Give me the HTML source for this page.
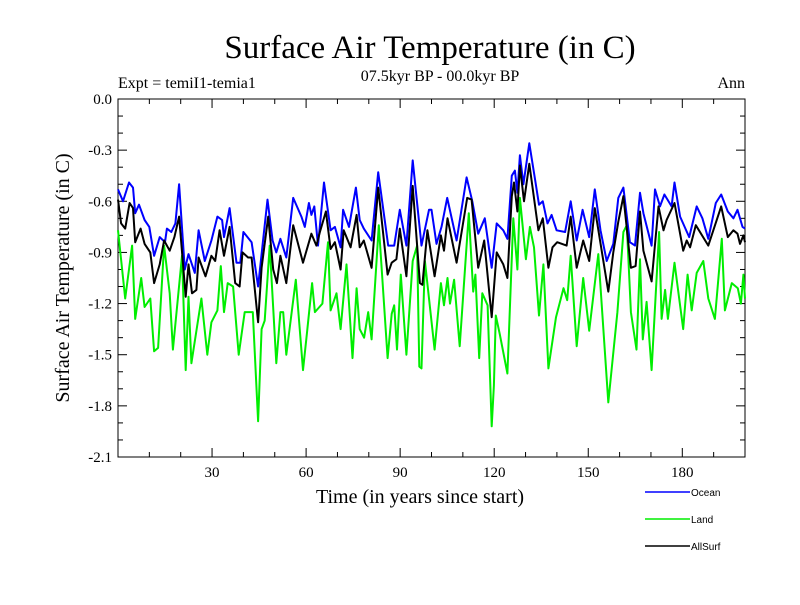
<!DOCTYPE html>
<html><head><meta charset="utf-8"><style>
body{margin:0;background:#fff;}
svg text{font-family:"Liberation Serif",serif;}
</style></head><body>
<svg id="chart" width="800" height="600" viewBox="0 0 800 600">
<text x="430" y="58" font-size="33" text-anchor="middle">Surface Air Temperature (in C)</text>
<text x="440" y="81" font-size="16" text-anchor="middle">07.5kyr BP - 00.0kyr BP</text>
<text x="118" y="88" font-size="16">Expt = temiI1-temia1</text>
<text x="745" y="88" font-size="16" text-anchor="end">Ann</text>
<text x="420" y="503" font-size="20" text-anchor="middle">Time (in years since start)</text>
<text transform="translate(69,278) rotate(-90)" font-size="20" text-anchor="middle">Surface Air Temperature (in C)</text>
<g id="axes"></g>
<g id="series"></g>
<g id="legend"></g>
</svg>
<script>
const oceanYears=[0,1.6,3.5,4.8,5.5,6.7,8.5,10,11.5,13.3,15,15.6,17,18.3,19.5,21.3,22.5,24.5,25.7,27.7,29.8,31.7,33.2,33.8,35.6,37.8,39,40,42.6,44.7,46.1,47.7,49.3,50.5,51.8,53.7,55.9,58.5,59.6,60.9,61.7,62.6,63.8,65.7,67.8,69.2,71,71.8,73.7,75.9,77.1,78.4,80.9,83,86.2,88.1,89.9,92,94,96.8,99.2,100,101.6,103.2,105,108,111.2,113,114.9,117,119.2,120.8,122.9,124.2,125.6,126.6,127.4,128.2,129.3,131.2,133,134.3,135.5,137,138.3,139.9,142.6,144.4,146.3,148.2,150.3,152.1,153.9,155.9,158,159.6,161.2,163.3,164.9,166.5,167.6,170.2,171.3,172.9,174.3,176.6,177.5,179.3,182.2,184.6,186.4,188.3,190.7,192.4,194.5,196.3,197.6,199.2,200];
const oceanValues=[-0.53,-0.60,-0.49,-0.52,-0.67,-0.62,-0.71,-0.75,-0.92,-0.81,-0.84,-0.76,-0.78,-0.73,-0.50,-1.00,-0.91,-1.02,-0.77,-0.95,-0.83,-0.69,-0.71,-0.81,-0.64,-0.96,-0.96,-0.78,-0.84,-1.10,-0.86,-0.59,-0.83,-0.90,-0.82,-0.93,-0.58,-0.69,-0.75,-0.61,-0.68,-0.63,-0.86,-0.49,-0.77,-0.75,-0.87,-0.65,-0.75,-0.52,-0.71,-0.76,-0.83,-0.43,-0.86,-0.86,-0.65,-0.86,-0.36,-0.86,-0.65,-0.65,-0.85,-0.75,-0.58,-0.83,-0.46,-0.60,-0.79,-0.70,-0.99,-0.73,-0.77,-0.82,-0.45,-0.42,-0.55,-0.33,-0.50,-0.26,-0.47,-0.62,-0.60,-0.73,-0.68,-0.77,-0.78,-0.60,-0.83,-0.65,-0.81,-0.53,-0.77,-0.95,-0.85,-0.58,-0.52,-0.84,-0.86,-0.55,-0.67,-0.86,-0.53,-0.63,-0.56,-0.63,-0.49,-0.69,-0.81,-0.63,-0.70,-0.82,-0.61,-0.56,-0.66,-0.70,-0.65,-0.75,-0.76];
const landYears=[0,2.3,4.5,5.5,7.4,8.5,10.3,11.5,12.8,14.7,16.5,17.5,20.4,21.6,22.5,23.4,26.6,28.5,29.8,31.7,32.8,33.8,35,36.7,38.5,40.4,41,43,44.7,45.8,46.8,48.4,50.5,51.8,52.7,53.7,56.7,59,60.3,61.9,62.8,65.2,67,67.8,69.7,71,72.9,74.8,76.1,77.1,78.5,79.8,80.9,83.2,86,87.3,88.1,89,90.2,92,94,95.4,96.1,96.8,97.9,101,103,104,105.1,105.9,107.2,109,111.9,113.3,114,115.2,116.2,117.9,119.2,119.9,120.5,121.8,124.2,126.1,127.4,128.2,130.1,131.4,132.7,134.3,135.7,137.3,139.7,142.1,143.3,144.4,146.3,148.4,150.3,153.2,156.4,159.3,161.2,162.3,163.6,165.4,166.5,167.4,168.6,170.2,172.6,173.4,174.5,175.4,177.5,180.3,181.7,183,184.6,186.7,188.3,190.4,192.6,193.6,195.8,197.7,198.7,199.5,200];
const landValues=[-0.77,-1.17,-0.86,-1.29,-1.05,-1.22,-1.17,-1.48,-1.46,-0.86,-1.14,-1.47,-0.92,-1.59,-1.16,-1.55,-1.17,-1.50,-1.31,-1.24,-0.98,-1.25,-1.08,-1.10,-1.50,-1.25,-1.25,-1.25,-1.89,-1.35,-1.30,-0.86,-1.55,-1.25,-1.25,-1.50,-1.06,-1.59,-1.37,-1.08,-1.25,-1.20,-0.84,-1.24,-1.14,-1.35,-0.97,-1.52,-1.11,-1.35,-1.40,-1.25,-1.41,-0.74,-1.52,-1.26,-1.21,-1.47,-1.03,-1.50,-0.95,-0.86,-1.57,-1.58,-0.95,-1.47,-1.08,-1.21,-1.05,-1.20,-1.06,-1.45,-0.67,-1.13,-1.03,-1.52,-1.14,-1.21,-1.92,-1.68,-1.27,-1.38,-1.61,-0.70,-1.00,-0.58,-0.94,-0.75,-0.87,-1.27,-0.97,-1.58,-1.28,-1.11,-1.18,-0.92,-1.45,-1.05,-1.36,-0.91,-1.78,-1.25,-0.78,-0.74,-1.25,-1.47,-0.94,-1.41,-1.19,-1.59,-0.78,-1.29,-1.12,-1.29,-0.96,-1.35,-1.03,-1.24,-1.02,-0.95,-1.17,-1.29,-0.82,-1.24,-1.08,-1.11,-1.20,-1.03,-1.17];
const allYears=[0,1,2.3,3.7,4.8,5.5,7.2,8.5,10.3,11.5,13.3,14.7,16.5,18,19.5,21.6,22.5,23.6,25,25.7,27.9,29.8,31,32.4,33.8,35.6,37.4,38.8,39.7,41.5,42.6,44.7,45.8,47.9,49.5,50.7,51.8,53.7,55.9,59,61.7,63.3,64.4,66.3,67.8,69.2,71,72,74.2,76.1,77.1,78.4,79.5,80.9,83,86,87.3,88.8,89.9,92,94,96.3,97.1,98.7,101,103,104,105.1,108,111.4,112.8,114.9,116.8,119.2,120.8,122.9,124.2,125.6,126.3,127.4,128.2,129.5,131.2,134.1,135.5,137.3,138.6,140.1,143.1,144.4,146.3,148.4,150.3,152.1,156.4,158,159.6,161.2,163.6,165.1,166.5,167.6,170.2,172.4,174,175,177.5,180.3,181.4,182.5,184.3,188.3,192.4,194.5,196.3,197.6,198.4,199.5,200];
const allValues=[-0.59,-0.73,-0.76,-0.61,-0.64,-0.84,-0.76,-0.85,-0.90,-1.08,-0.97,-0.83,-0.89,-0.81,-0.69,-1.16,-0.97,-1.14,-1.12,-0.93,-1.04,-0.92,-0.95,-0.77,-0.92,-0.75,-1.08,-1.10,-0.90,-0.93,-0.93,-1.31,-0.99,-0.69,-1.00,-1.08,-0.92,-1.08,-0.74,-0.96,-0.79,-0.86,-0.78,-0.66,-0.88,-0.84,-1.00,-0.77,-0.87,-0.68,-0.87,-0.83,-0.90,-0.99,-0.52,-1.03,-0.96,-0.94,-0.76,-1.04,-0.51,-1.08,-1.09,-0.77,-1.04,-0.80,-0.89,-0.70,-0.96,-0.58,-0.59,-0.99,-0.83,-1.28,-0.90,-0.97,-1.05,-0.57,-0.49,-0.66,-0.39,-0.60,-0.38,-0.77,-0.70,-0.99,-0.87,-0.84,-0.86,-0.69,-0.99,-0.83,-0.95,-0.64,-1.13,-0.90,-0.72,-0.57,-0.99,-0.98,-0.66,-0.89,-1.07,-0.63,-0.77,-0.71,-0.61,-0.89,-0.83,-0.87,-0.74,-0.86,-0.63,-0.81,-0.77,-0.79,-0.85,-0.80,-0.84];
const yTickLabels=["0.0","-0.3","-0.6","-0.9","-1.2","-1.5","-1.8","-2.1"];
const yTickValues=[0,-0.3,-0.6,-0.9,-1.2,-1.5,-1.8,-2.1];
const xTickValues=[30,60,90,120,150,180];
const xTickLabels=["30","60","90","120","150","180"];

const X0=118,X1=745,Y0=99,Y1=457,XMIN=0,XMAX=200,YMIN=-2.1,YMAX=0;
const NS="http://www.w3.org/2000/svg";
function sx(v){return X0+(v-XMIN)/(XMAX-XMIN)*(X1-X0);}
function sy(v){return Y0+(YMAX-v)/(YMAX-YMIN)*(Y1-Y0);}
function mk(tag,attrs,parent){const e=document.createElementNS(NS,tag);for(const k in attrs)e.setAttribute(k,attrs[k]);parent.appendChild(e);return e;}
const axes=document.getElementById('axes');
const frame=mk('rect',{x:X0,y:Y0,width:X1-X0,height:Y1-Y0,fill:'none',stroke:'#000','stroke-width':1},axes);


for(let v=0;v>=-2.1001;v-=0.1){const y=sy(v);const major=Math.abs(v*10)%3<0.01||Math.abs(v*10)%3>2.99;const L=major?9:5;
 const t1=mk('line',{x1:X0,y1:y,x2:X0+L,y2:y,stroke:'#000'},axes);
 
 
 const t2=mk('line',{x1:X1,y1:y,x2:X1-L,y2:y,stroke:'#000'},axes);
 
 }
yTickValues.forEach((v,i)=>{const t=mk('text',{x:X0-6,y:sy(v)+5,'font-size':15,'text-anchor':'end'},axes);t.textContent=yTickLabels[i];
 
 });
for(let v=10;v<200;v+=10){const x=sx(v);const L=(v%30===0)?9:5;
 const t1=mk('line',{x1:x,y1:Y1,x2:x,y2:Y1-L,stroke:'#000'},axes);
 
 
 const t2=mk('line',{x1:x,y1:Y0,x2:x,y2:Y0+L,stroke:'#000'},axes);
 
 }
xTickValues.forEach((v,i)=>{const t=mk('text',{x:sx(v),y:Y1+20,'font-size':15,'text-anchor':'middle'},axes);t.textContent=xTickLabels[i];
 
 });
const series=document.getElementById('series');
function draw(xs,ys,color,name){const d=xs.map((x,i)=>(i?'L':'M')+sx(x).toFixed(1)+','+sy(ys[i]).toFixed(1)).join('');
 const p=mk('path',{d:d,fill:'none',stroke:color,'stroke-width':2,'stroke-linejoin':'round'},series);
 
 }
draw(landYears,landValues,'#00ee00','land-line');
draw(oceanYears,oceanValues,'#0000ff','ocean-line');
draw(allYears,allValues,'#000000','allsurf-line');
const legend=document.getElementById('legend');
[['Ocean','#0000ff',492],['Land','#00ee00',519],['AllSurf','#000000',546]].forEach(([lab,c,y])=>{
 const l=mk('line',{x1:645,y1:y,x2:690,y2:y,stroke:c,'stroke-width':1.5},legend);
 
 
 const t=mk('text',{x:691,y:y+4,'font-size':10},legend);t.textContent=lab;
 t.style.fontFamily='"Liberation Sans",sans-serif';
 
 });
</script>
</body></html>
